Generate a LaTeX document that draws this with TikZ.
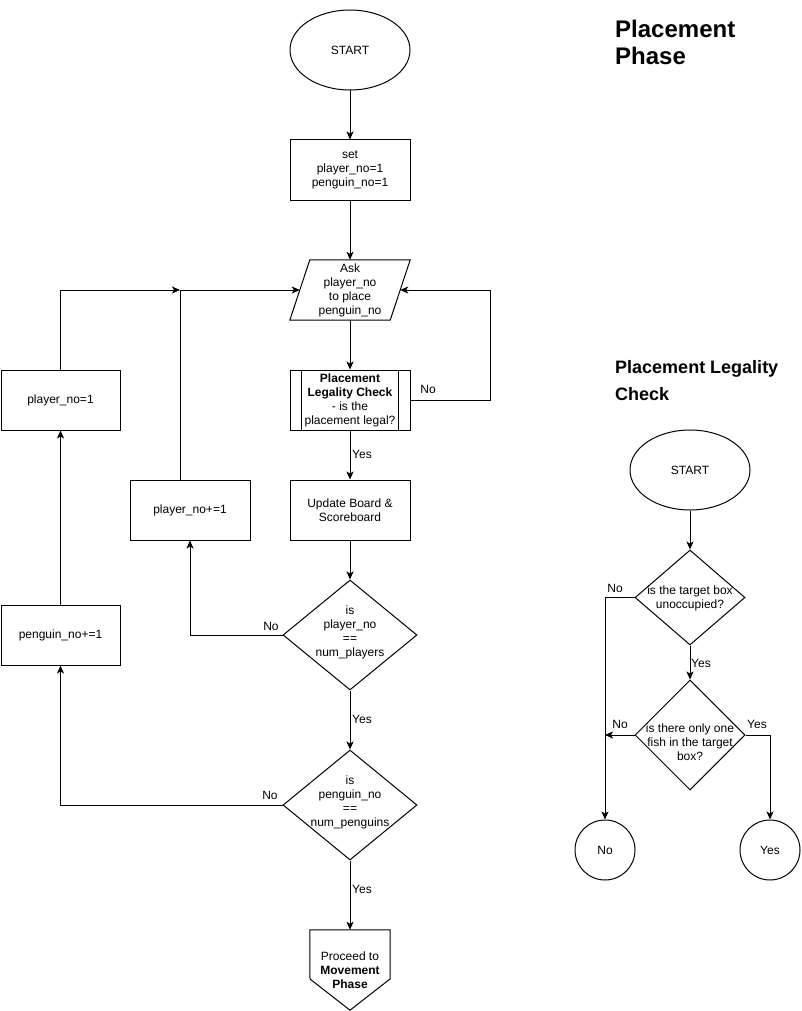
\documentclass[tikz,border=0pt]{standalone}
\usepackage{fontspec}
\setmainfont{Liberation Sans}
\usetikzlibrary{shapes.geometric,arrows.meta}
\begin{document}
\begin{tikzpicture}[x=1pt,y=-1pt,
  every node/.style={font=\fontsize{12}{14}\selectfont, text=black, align=center, inner sep=0pt},
  box/.style={draw, line width=1pt, minimum width=120pt, minimum height=60pt},
  term/.style={draw, ellipse, line width=1pt, minimum width=120pt, minimum height=80pt},
  dec/.style={draw, diamond, line width=1pt},
  endc/.style={draw, circle, line width=1pt, minimum size=60pt},
  shp/.style={draw=none, minimum width=100pt, minimum height=60pt},
  conn/.style={line width=1pt, -{Stealth[length=8pt,width=7pt,inset=2pt]}},
  ln/.style={line width=1pt},
  ttl/.style={font=\fontsize{24}{27}\selectfont\bfseries, anchor=base west},
  ttls/.style={font=\fontsize{18}{27}\selectfont\bfseries, anchor=base west}
]
\useasboundingbox (0,0) rectangle (801,1011);

% titles
\node[ttl] (t1a) at (615,38) {Placement};
\node[ttl] (t1b) at (615,65) {Phase};
\node[ttls] (t2a) at (615,373) {Placement Legality};
\node[ttls] (t2b) at (615,400) {Check};

% main flow
\node[term] (start) at (350,50) {START};
\node[box] (set) at (350,170) {set\\player\_no=1\\penguin\_no=1};
\node[shp] (ask) at (350,290) {Ask\\player\_no\\to place\\penguin\_no};
\draw[ln] ([xshift=-10pt]ask.south west) -- ([xshift=10pt]ask.north west)
  -- ([xshift=10pt]ask.north east) -- ([xshift=-10pt]ask.south east) -- cycle;
\node[box] (plc) at (350,400) {\textbf{Placement}\\\textbf{Legality Check}\\- is the\\placement legal?};
\draw[ln] ([xshift=12pt]plc.north west) -- ([xshift=12pt]plc.south west);
\draw[ln] ([xshift=-12pt]plc.north east) -- ([xshift=-12pt]plc.south east);
\node[box] (upd) at (350,510) {Update Board \&\\Scoreboard};
\node[dec, minimum width=134pt, minimum height=110pt] (d1) at (350,635) {};
\node (d1t) at (350,632) {is\\player\_no\\==\\num\_players};
\node[dec, minimum width=134pt, minimum height=110pt] (d2) at (350,805) {};
\node (d2t) at (350,802) {is\\penguin\_no\\==\\num\_penguins};
\node[draw=none, minimum width=80pt, minimum height=80pt] (off) at (350,970) {};
\draw[ln] (off.north west) -- (off.north east) -- (390,979) -- (off.south) -- (310,979) -- cycle;
\node (offt) at (350,970) {Proceed to\\\textbf{Movement}\\\textbf{Phase}};

\node[box] (pinc) at (190,510) {player\_no+=1};
\node[box, minimum width=119pt] (p1) at (60.5,400) {player\_no=1};
\node[box, minimum width=119pt] (pen) at (60.5,635) {penguin\_no+=1};
\coordinate (j1) at (180,290);

\draw[conn] (start.south) -- (set.north);
\draw[conn] (set.south) -- (ask.north);
\draw[conn] (ask.south) -- (plc.north);
\draw[conn] (plc.east) -- ++(80,0) |- (ask.east);
\node (lno1) at (428,389) {No};
\draw[conn] (plc.south) -- (upd.north);
\node (lyes1) at (362,454) {Yes};
\draw[conn] (upd.south) -- (d1.north);
\draw[conn] (d1.west) -| (pinc.south);
\node (lno2) at (271,626) {No};
\draw[conn] ([xshift=-10pt]pinc.north) |- (ask.west);
\draw[conn] (p1.north) |- (j1);
\draw[conn] (d1.south) -- (d2.north);
\node (lyes2) at (362,719) {Yes};
\draw[conn] (d2.west) -| (pen.south);
\node (lno3) at (270,795) {No};
\draw[conn] (pen.north) -- (p1.south);
\draw[conn] (d2.south) -- (off.north);
\node (lyes3) at (362,889) {Yes};

% legality check flow
\node[term] (start2) at (690,470) {START};
\node[dec, minimum width=110pt, minimum height=95pt] (dA) at (690,597.5) {};
\node (dAt) at (690,598) {is the target box\\unoccupied?};
\node[dec, minimum width=110pt, minimum height=110pt] (dB) at (690,735) {};
\node (dBt) at (690,742) {is there only one\\fish in the target\\box?};
\node[endc] (cno) at (605,850) {No};
\node[endc] (cyes) at (770,850) {Yes};
\coordinate (j2) at (605,735);

\draw[conn] (start2.south) -- (dA.north);
\draw[conn] (dA.south) -- (dB.north);
\node (lyes4) at (701,663) {Yes};
\draw[conn] (dA.west) -| (cno.north);
\node (lno4) at (615,588) {No};
\draw[conn] (dB.west) -- (j2);
\node (lno5) at (620,724) {No};
\draw[conn] (dB.east) -| (cyes.north);
\node (lyes5) at (757,724) {Yes};
\end{tikzpicture}
\end{document}
